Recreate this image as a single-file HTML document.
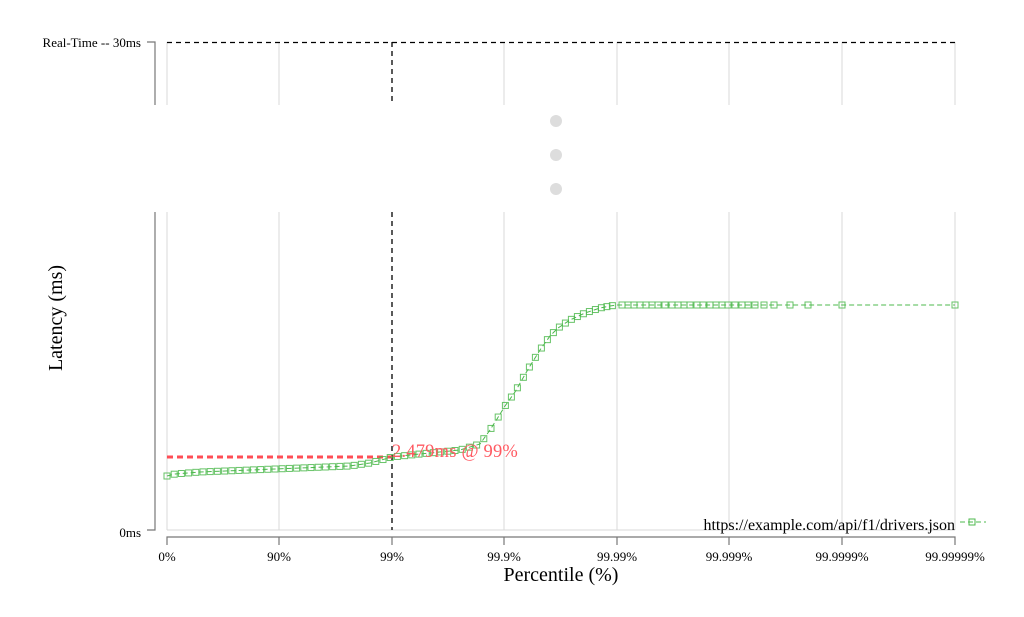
<!DOCTYPE html>
<html><head><meta charset="utf-8"><style>
body{margin:0;background:#fff;}
svg{display:block;font-family:"Liberation Serif",serif;}
</style></head><body>
<svg id="s" width="1024" height="617" xmlns="http://www.w3.org/2000/svg">
<g stroke="#d8d8d8" stroke-width="1">
<line x1="167" y1="42" x2="167" y2="105"/><line x1="279" y1="42" x2="279" y2="105"/><line x1="504" y1="42" x2="504" y2="105"/><line x1="617" y1="42" x2="617" y2="105"/><line x1="729" y1="42" x2="729" y2="105"/><line x1="842" y1="42" x2="842" y2="105"/><line x1="955" y1="42" x2="955" y2="105"/>
<line x1="167" y1="212" x2="167" y2="530"/><line x1="279" y1="212" x2="279" y2="530"/><line x1="504" y1="212" x2="504" y2="530"/><line x1="617" y1="212" x2="617" y2="530"/><line x1="729" y1="212" x2="729" y2="530"/><line x1="842" y1="212" x2="842" y2="530"/><line x1="955" y1="212" x2="955" y2="530"/>
<line x1="167" y1="530" x2="955" y2="530"/>
</g>
<g stroke="#777" stroke-width="1.2" fill="none">
<path d="M147 42H155V105"/><path d="M155 212V530H147"/>
<path d="M167 545V537H955V545"/>
<line x1="279" y1="537" x2="279" y2="545"/><line x1="392" y1="537" x2="392" y2="545"/><line x1="504" y1="537" x2="504" y2="545"/><line x1="617" y1="537" x2="617" y2="545"/><line x1="729" y1="537" x2="729" y2="545"/><line x1="842" y1="537" x2="842" y2="545"/>
</g>
<g stroke="#000" stroke-width="1.3" stroke-dasharray="5,4" fill="none">
<line x1="167" y1="42.5" x2="955" y2="42.5"/><line x1="392" y1="42" x2="392" y2="105"/><line x1="392" y1="212" x2="392" y2="530"/>
</g>
<g fill="#ddd"><circle cx="556" cy="121" r="6"/><circle cx="556" cy="155" r="6"/><circle cx="556" cy="189" r="6"/></g>
<line x1="167" y1="457" x2="392" y2="457" stroke="#ff4d55" stroke-width="3" stroke-dasharray="6,4"/>
<g id="c"></g>
<text x="392" y="457" font-size="18.5" letter-spacing="0.2" fill="#ff5a62">2.479ms @ 99%</text>
<g font-size="13" fill="#000">
<text x="141" y="47" text-anchor="end">Real-Time -- 30ms</text>
<text x="141" y="537" text-anchor="end">0ms</text>
<g text-anchor="middle"><text x="167" y="561">0%</text><text x="279" y="561">90%</text><text x="392" y="561">99%</text><text x="504" y="561">99.9%</text><text x="617" y="561">99.99%</text><text x="729" y="561">99.999%</text><text x="842" y="561">99.9999%</text><text x="955" y="561">99.99999%</text></g>
<text x="955" y="530" text-anchor="end" font-size="16">https://example.com/api/f1/drivers.json</text>
</g>
<text x="561" y="581" text-anchor="middle" font-size="20">Percentile (%)</text>
<text transform="translate(62,318) rotate(-90)" text-anchor="middle" font-size="20">Latency (ms)</text>
<line x1="960" y1="522" x2="986" y2="522" stroke="#4cb84c" stroke-dasharray="5,3"/>
<rect x="969" y="519" width="6" height="6" fill="none" stroke="#4cb84c"/>
</svg>
<script>
var k=[[167,476],[175,474],[200,472],[250,470],[300,468],[350,466],[370,463],[385,459],[392,457],[420,454],[460,450],[480,444],[490,430],[497,419],[505,406],[515,392],[523,378],[530,366],[540,350],[550,336],[558,328],[570,320],[585,313],[600,308],[610,306],[617,305],[955,305]];
function yAt(x){for(var i=1;i<k.length;i++){if(x<=k[i][0]){var a=k[i-1],b=k[i];return a[1]+(b[1]-a[1])*(x-a[0])/(b[0]-a[0]);}}return 305;}
var g=document.getElementById('c'),ns='http://www.w3.org/2000/svg',d='M'+k.map(function(p){return p[0]+' '+p[1]}).join('L');
var p=document.createElementNS(ns,'path');p.setAttribute('d',d);p.setAttribute('fill','none');p.setAttribute('stroke','#4cb84c');p.setAttribute('stroke-dasharray','5,3');g.appendChild(p);
var xs=[];for(var x=167;x<=617;x+=(x<500?7.2:(x<600?6:5.5)))xs.push(x);
[622,628,634,640,646,652,658,665,672,678,684,690,697,703,710,716,722,728,735,742,748,755,764,774,790,808,842,955].forEach(function(v){xs.push(v)});
xs.forEach(function(x){var r=document.createElementNS(ns,'rect');r.setAttribute('x',x-3);r.setAttribute('y',yAt(x)-3);r.setAttribute('width',6);r.setAttribute('height',6);r.setAttribute('fill','none');r.setAttribute('stroke','#4cb84c');r.setAttribute('stroke-opacity','0.85');g.appendChild(r);});
</script>
</body></html>
